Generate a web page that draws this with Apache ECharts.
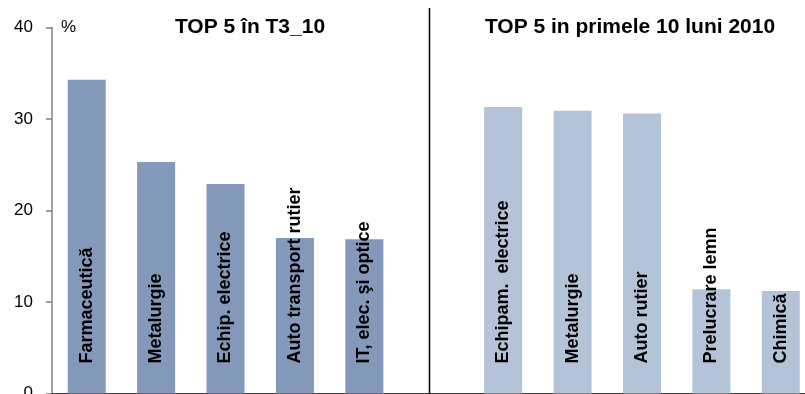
<!DOCTYPE html>
<html>
<head>
<meta charset="utf-8">
<script src="https://cdn.jsdelivr.net/npm/echarts@6/dist/echarts.min.js"></script>
<style>html,body{margin:0;padding:0;background:#fff;}#c{width:805px;height:394px;}</style>
</head>
<body>
<div id="c"></div>
<script>
// Data
const leftTitle = 'TOP 5 în T3_10';
const rightTitle = 'TOP 5 in primele 10 luni 2010';
const leftCategories = ['Farmaceutică', 'Metalurgie', 'Echip. electrice', 'Auto transport rutier', 'IT, elec. şi optice'];
const leftValues = [34.3, 25.3, 22.9, 17.0, 16.85];
const rightCategories = ['Echipam.  electrice', 'Metalurgie', 'Auto rutier', 'Prelucrare lemn', 'Chimică'];
const rightValues = [31.3, 30.9, 30.6, 11.4, 11.2];
const yTicks = [0, 10, 20, 30, 40];
const yUnit = '%';

const leftColor = '#8498B9';
const rightColor = '#B4C3D7';
const font = '"Liberation Sans", Arial, sans-serif';

// combined category axis: left 5, gap, right 5
const categories = leftCategories.concat(['']).concat(rightCategories);
const data = [];
leftValues.forEach(v => data.push({ value: v, itemStyle: { color: leftColor } }));
data.push('-');
rightValues.forEach(v => data.push({ value: v, itemStyle: { color: rightColor } }));

const chart = echarts.init(document.getElementById('c'), null, { renderer: 'canvas' });
chart.setOption({
  animation: false,
  backgroundColor: '#fff',
  textStyle: { fontFamily: font },
  title: [
    { text: leftTitle, left: 245, top: 12, textAlign: 'center',
      textStyle: { fontFamily: font, fontSize: 21, fontWeight: 'bold', color: '#000' } },
    { text: rightTitle, left: 625, top: 12, textAlign: 'center',
      textStyle: { fontFamily: font, fontSize: 21, fontWeight: 'bold', color: '#000' } }
  ],
  grid: { left: 52, right: -10.5, top: 27.5, bottom: 0.5, containLabel: false, outerBoundsMode: 'none' },
  xAxis: {
    type: 'category',
    data: categories,
    axisLine: { show: true, lineStyle: { color: '#000', width: 1.5 } },
    axisTick: { show: false },
    axisLabel: { show: false },
    splitLine: { show: false }
  },
  yAxis: {
    type: 'value',
    min: yTicks[0],
    max: yTicks[yTicks.length - 1],
    interval: yTicks[1] - yTicks[0],
    name: yUnit,
    nameLocation: 'end',
    nameGap: 0,
    nameTextStyle: { fontFamily: font, fontSize: 17, color: '#000', align: 'left', verticalAlign: 'middle', padding: [0, 0, 4, 9] },
    axisLine: { show: true, lineStyle: { color: '#808080', width: 1.5 } },
    axisTick: { show: true, length: 6, lineStyle: { color: '#808080', width: 1.5 } },
    axisLabel: { fontFamily: font, fontSize: 17, color: '#000', margin: 19 },
    splitLine: { show: false }
  },
  graphic: [
    { type: 'line', shape: { x1: 429.5, y1: 8, x2: 429.5, y2: 394 }, style: { stroke: '#000', lineWidth: 1.5 } }
  ],
  series: [{
    type: 'bar',
    data: data,
    barWidth: 38,
    label: {
      show: true,
      position: 'insideBottom',
      distance: 30,
      rotate: 90,
      align: 'left',
      verticalAlign: 'middle',
      formatter: p => p.name,
      fontFamily: font,
      fontSize: 18,
      fontWeight: 'bold',
      color: '#000'
    }
  }]
});
</script>
</body>
</html>
